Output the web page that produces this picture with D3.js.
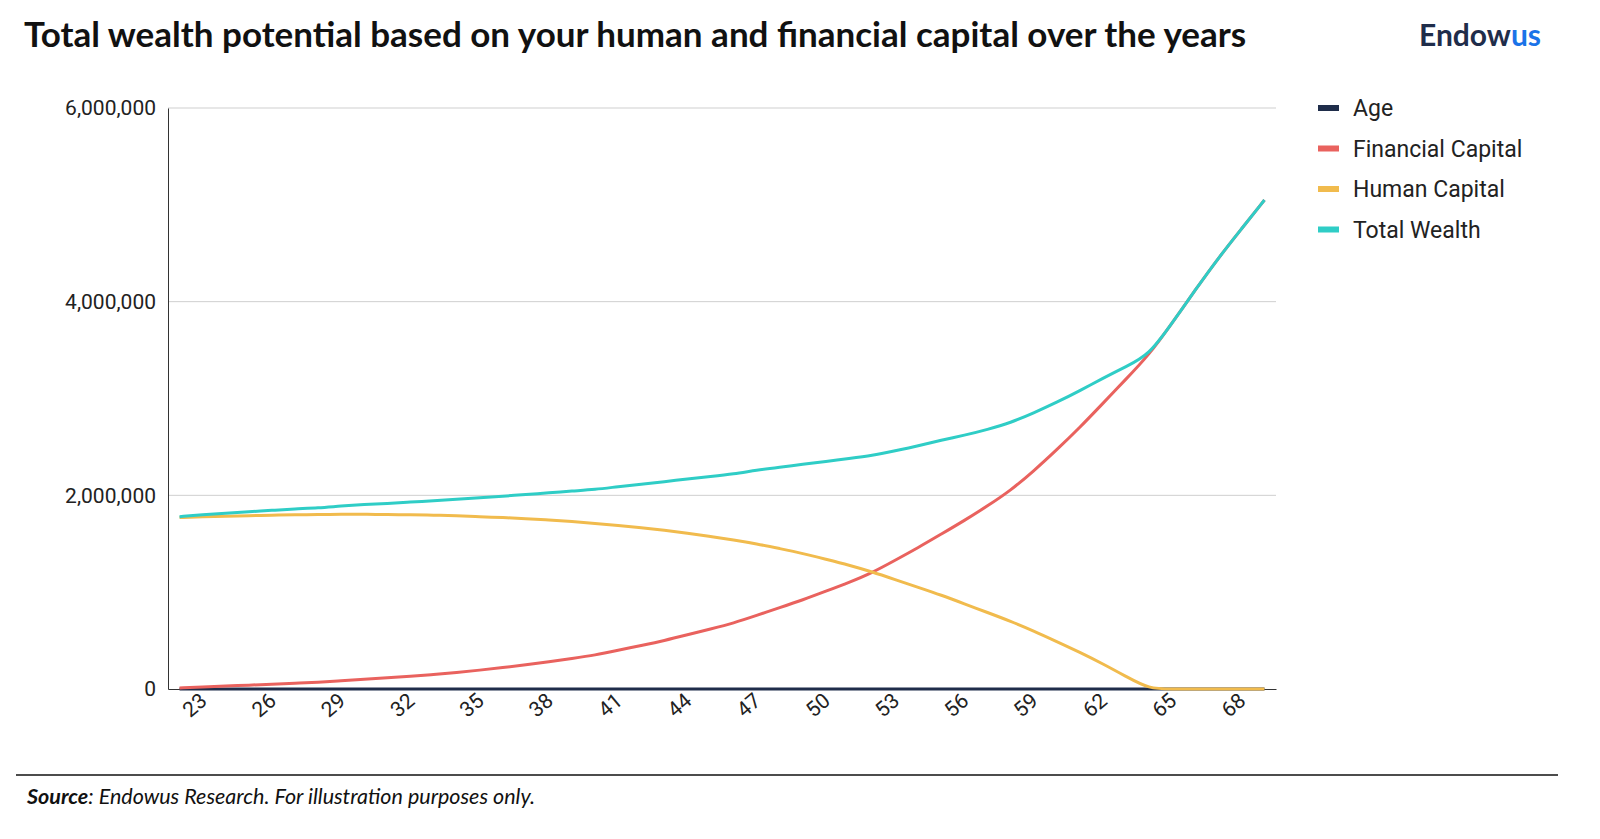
<!DOCTYPE html>
<html>
<head>
<meta charset="utf-8">
<script src="https://cdn.jsdelivr.net/npm/d3@7"></script>
<style>
  body { margin: 0; background: #fff; font-family: Lato, "Noto Sans", sans-serif; }
</style>
</head>
<body>
<svg></svg>
<script>
const ages = d3.range(23, 71);
const financialCapital = [0.01,0.02,0.03,0.04,0.05,0.06,0.07,0.085,0.10,0.115,0.13,0.15,0.17,0.195,0.22,0.25,0.28,0.315,0.35,0.40,0.45,0.50,0.56,0.62,0.68,0.76,0.84,0.92,1.01,1.10,1.20,1.33,1.46,1.60,1.74,1.89,2.05,2.25,2.47,2.70,2.95,3.20,3.45,3.78,4.12,4.45,4.75,5.05];
const humanCapital = [1.77,1.78,1.785,1.79,1.795,1.80,1.80,1.805,1.805,1.80,1.80,1.795,1.79,1.78,1.77,1.76,1.745,1.73,1.71,1.69,1.665,1.64,1.61,1.575,1.54,1.50,1.45,1.40,1.34,1.28,1.21,1.13,1.05,0.97,0.88,0.79,0.70,0.60,0.49,0.38,0.26,0.13,0,0,0,0,0,0];
const totalWealth = [1.78,1.80,1.815,1.83,1.845,1.86,1.87,1.89,1.905,1.915,1.93,1.945,1.96,1.975,1.99,2.01,2.025,2.045,2.06,2.09,2.115,2.14,2.17,2.195,2.22,2.26,2.29,2.32,2.35,2.38,2.41,2.46,2.51,2.57,2.62,2.68,2.75,2.85,2.96,3.08,3.21,3.33,3.45,3.78,4.12,4.45,4.75,5.05];
const yTicks = [0, 2000000, 4000000, 6000000];
const xTicks = [23,26,29,32,35,38,41,44,47,50,53,56,59,62,65,68];

const series = [
  { name: "Age", color: "#1f2d4a", values: ages },
  { name: "Financial Capital", color: "#e9625e", values: financialCapital.map(v => v * 1e6) },
  { name: "Human Capital", color: "#f1bb4d", values: humanCapital.map(v => v * 1e6) },
  { name: "Total Wealth", color: "#2fcdc6", values: totalWealth.map(v => v * 1e6) }
];

const width = 1600, height = 839;
const svg = d3.select("svg").attr("width", width).attr("height", height);

const x = d3.scaleLinear().domain([22.5, 70.5]).range([168, 1276]);
const y = d3.scaleLinear().domain([0, 6000000]).range([689, 108]);

svg.append("text").attr("x", 24).attr("y", 47)
  .attr("font-size", 35).attr("font-weight", 700).attr("fill", "#111")
  .text("Total wealth potential based on your human and financial capital over the years");

const logo = svg.append("text").attr("x", 1541).attr("y", 46).attr("text-anchor", "end")
  .attr("font-size", 30).attr("font-weight", 700);
logo.append("tspan").attr("fill", "#1f2d4a").text("Endow");
logo.append("tspan").attr("fill", "#1a73e8").text("us");

// gridlines
svg.append("g").selectAll("line").data(yTicks.slice(1)).join("line")
  .attr("x1", 168).attr("x2", 1276)
  .attr("y1", d => y(d)).attr("y2", d => y(d))
  .attr("stroke", "#cfcfcf").attr("stroke-width", 1);

const yAxis = svg.append("g").attr("transform", "translate(168,0)")
  .call(d3.axisLeft(y).tickValues(yTicks).tickFormat(d3.format(",")).tickSize(0).tickPadding(12));
yAxis.select(".domain").attr("stroke", "#333");
yAxis.selectAll("text").attr("font-size", 21).attr("fill", "#222").attr("font-family", "Roboto, sans-serif");

const xAxis = svg.append("g").attr("transform", "translate(0,689)")
  .call(d3.axisBottom(x).tickValues(xTicks).tickSize(0).tickPadding(10));
xAxis.select(".domain").attr("stroke", "#333");
xAxis.selectAll("text").attr("font-size", 21).attr("fill", "#222").attr("font-family", "Roboto, sans-serif")
  .attr("text-anchor", "end").attr("dx", "0.6em").attr("dy", "0.9em")
  .attr("transform", "rotate(-40)");

const line = d3.line().x((d, i) => x(ages[i])).y(d => y(d)).curve(d3.curveBasis);
svg.append("g").selectAll("path").data(series).join("path")
  .attr("d", d => line(d.values))
  .attr("fill", "none").attr("stroke", d => d.color).attr("stroke-width", 3);

const legend = svg.append("g").selectAll("g").data(series).join("g")
  .attr("transform", (d, i) => `translate(1318,${108 + i * 40.5})`);
legend.append("rect").attr("x", 0).attr("y", -3).attr("width", 21).attr("height", 6).attr("fill", d => d.color);
legend.append("text").attr("x", 35).attr("y", 8).attr("font-size", 23).attr("fill", "#222")
  .attr("font-family", "Roboto, sans-serif").text(d => d.name);

svg.append("line").attr("x1", 16).attr("x2", 1558).attr("y1", 775).attr("y2", 775)
  .attr("stroke", "#111").attr("stroke-width", 1.5);
const src = svg.append("text").attr("x", 27).attr("y", 804).attr("font-size", 21.5)
  .attr("font-style", "italic").attr("fill", "#111");
src.append("tspan").attr("font-weight", 700).text("Source");
src.append("tspan").text(": Endowus Research. For illustration purposes only.");
</script>
</body>
</html>
